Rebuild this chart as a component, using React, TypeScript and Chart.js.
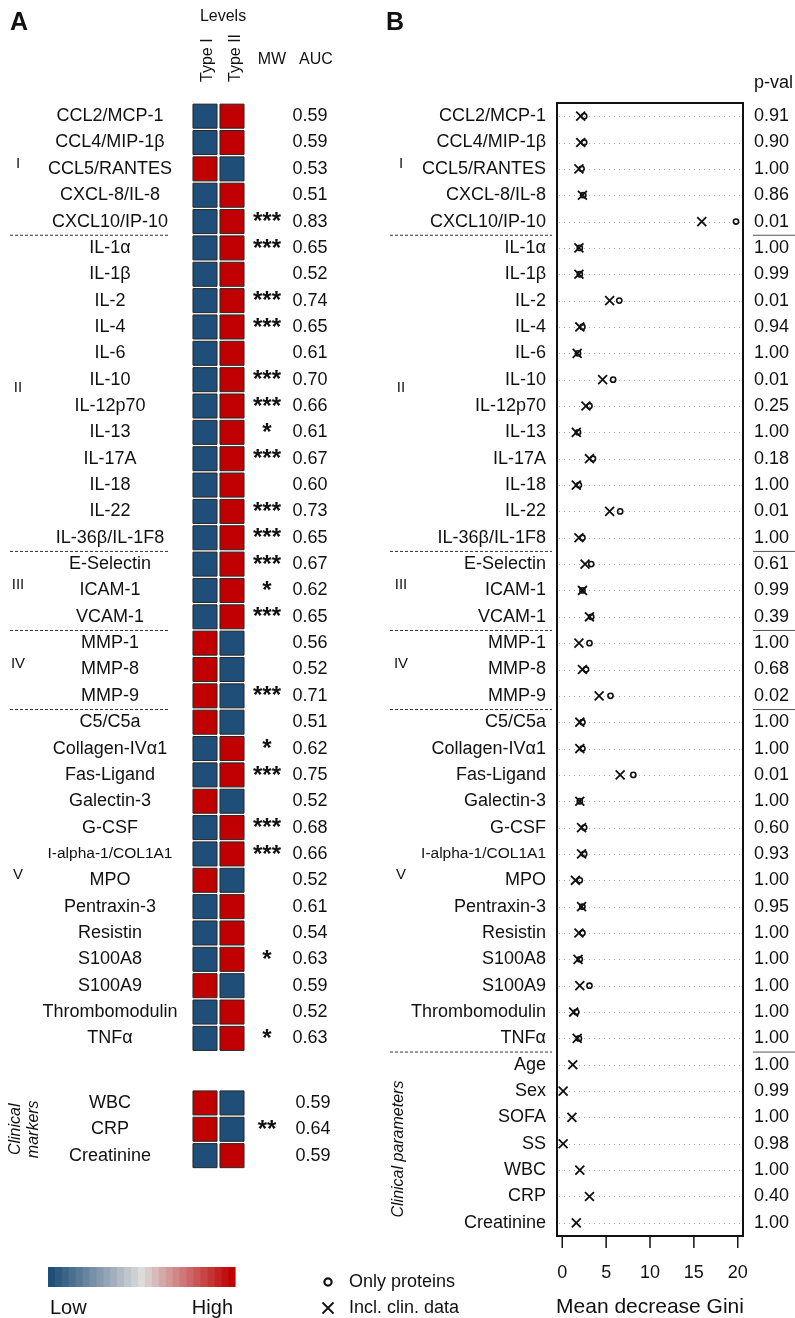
import React, { useEffect, useRef } from 'react';
import { Chart, registerables } from 'chart.js';
Chart.register(...registerables);

const W = 795;
const H = 1318;
const FF = '"Liberation Sans", Arial, Helvetica, sans-serif';

// ---------- DATA ----------
const proteins = [
  'CCL2/MCP-1', 'CCL4/MIP-1β', 'CCL5/RANTES', 'CXCL-8/IL-8', 'CXCL10/IP-10',
  'IL-1α', 'IL-1β', 'IL-2', 'IL-4', 'IL-6', 'IL-10', 'IL-12p70', 'IL-13', 'IL-17A', 'IL-18', 'IL-22', 'IL-36β/IL-1F8',
  'E-Selectin', 'ICAM-1', 'VCAM-1',
  'MMP-1', 'MMP-8', 'MMP-9',
  'C5/C5a', 'Collagen-IVα1', 'Fas-Ligand', 'Galectin-3', 'G-CSF', 'I-alpha-1/COL1A1', 'MPO', 'Pentraxin-3',
  'Resistin', 'S100A8', 'S100A9', 'Thrombomodulin', 'TNFα',
];
const groupNames = ['I', 'II', 'III', 'IV', 'V'];
const groupSizes = [5, 12, 3, 3, 13];

// 1 = Type I high (red) / Type II low (blue); 0 = Type I low / Type II high
const typeIHigh = [
  0, 0, 1, 0, 0,
  0, 0, 0, 0, 0, 0, 0, 0, 0, 0, 0, 0,
  0, 0, 0,
  1, 1, 1,
  1, 0, 0, 1, 0, 0, 1, 0, 0, 0, 1, 0, 0,
];
const mwStars = [
  '', '', '', '', '***',
  '***', '', '***', '***', '', '***', '***', '*', '***', '', '***', '***',
  '***', '*', '***',
  '', '', '***',
  '', '*', '***', '', '***', '***', '', '', '', '*', '', '', '*',
];
const aucValues = [
  0.59, 0.59, 0.53, 0.51, 0.83,
  0.65, 0.52, 0.74, 0.65, 0.61, 0.70, 0.66, 0.61, 0.67, 0.60, 0.73, 0.65,
  0.67, 0.62, 0.65,
  0.56, 0.52, 0.71,
  0.51, 0.62, 0.75, 0.52, 0.68, 0.66, 0.52, 0.61, 0.54, 0.63, 0.59, 0.52, 0.63,
];
const clinicalMarkers = ['WBC', 'CRP', 'Creatinine'];
const clinicalTypeIHigh = [1, 1, 0];
const clinicalStars = ['', '**', ''];
const clinicalAuc = [0.59, 0.64, 0.59];

const clinicalParams = ['Age', 'Sex', 'SOFA', 'SS', 'WBC', 'CRP', 'Creatinine'];
const giniOnlyProteins = [
  2.5, 2.5, 2.2, 2.4, 19.8,
  2.0, 2.0, 6.5, 2.3, 1.8, 5.8, 3.1, 1.8, 3.5, 1.9, 6.6, 2.3,
  3.3, 2.3, 3.3,
  3.1, 2.7, 5.5,
  2.3, 2.3, 8.1, 2.0, 2.5, 2.5, 2.0, 2.3, 2.3, 2.0, 3.1, 1.6, 1.9,
];
const giniInclClin = [
  2.1, 2.1, 1.9, 2.3, 15.9,
  1.9, 1.9, 5.4, 2.0, 1.7, 4.6, 2.7, 1.6, 3.1, 1.6, 5.4, 1.9,
  2.6, 2.3, 3.1,
  1.9, 2.3, 4.2,
  2.0, 2.0, 6.6, 2.0, 2.2, 2.2, 1.5, 2.2, 1.9, 1.8, 2.0, 1.3, 1.7,
  1.2, 0.1, 1.1, 0.1, 2.0, 3.1, 1.6,
];
const pValues = [
  '0.91', '0.90', '1.00', '0.86', '0.01',
  '1.00', '0.99', '0.01', '0.94', '1.00', '0.01', '0.25', '1.00', '0.18', '1.00', '0.01', '1.00',
  '0.61', '0.99', '0.39',
  '1.00', '0.68', '0.02',
  '1.00', '1.00', '0.01', '1.00', '0.60', '0.93', '1.00', '0.95', '1.00', '1.00', '1.00', '1.00', '1.00',
  '1.00', '0.99', '1.00', '0.98', '1.00', '0.40', '1.00',
];
const xTicks = [0, 5, 10, 15, 20];

// ---------- STYLE ----------
const BLUE = '#1F4E79';
const RED = '#C00000';
const MID = '#DCDCDC';
const INK = '#111111';

const rowsB = [...proteins, ...clinicalParams];
const nRows = rowsB.length;
const CLIN_OFFSET = proteins.length + 1.45; // clinical markers block position in panel A

function groupStarts() {
  const s: number[] = [];
  let c = 0;
  for (const g of groupSizes) { s.push(c); c += g; }
  return s;
}

function hexToRgb(h: string) {
  const n = parseInt(h.slice(1), 16);
  return [(n >> 16) & 255, (n >> 8) & 255, n & 255];
}
function mix(a: string, b: string, t: number) {
  const A = hexToRgb(a), B = hexToRgb(b);
  const r = A.map((v, i) => Math.round(v + (B[i] - v) * t));
  return `rgb(${r[0]},${r[1]},${r[2]})`;
}

function txt(ctx: CanvasRenderingContext2D, s: string, x: number, y: number, font: string,
  align: CanvasTextAlign = 'center', baseline: CanvasTextBaseline = 'middle', color = INK) {
  ctx.save();
  ctx.font = font;
  ctx.textAlign = align;
  ctx.textBaseline = baseline;
  ctx.fillStyle = color;
  ctx.fillText(s, x, y);
  ctx.restore();
}
function rtxt(ctx: CanvasRenderingContext2D, s: string, x: number, y: number, font: string,
  align: CanvasTextAlign = 'center') {
  ctx.save();
  ctx.translate(x, y);
  ctx.rotate(-Math.PI / 2);
  ctx.font = font;
  ctx.textAlign = align;
  ctx.textBaseline = 'middle';
  ctx.fillStyle = INK;
  ctx.fillText(s, 0, 0);
  ctx.restore();
}
function dashed(ctx: CanvasRenderingContext2D, x1: number, x2: number, y: number) {
  ctx.save();
  ctx.strokeStyle = '#333';
  ctx.lineWidth = 1;
  ctx.setLineDash([3, 2]);
  ctx.beginPath();
  ctx.moveTo(x1, y + 0.5);
  ctx.lineTo(x2, y + 0.5);
  ctx.stroke();
  ctx.restore();
}
function solid(ctx: CanvasRenderingContext2D, x1: number, x2: number, y: number) {
  ctx.save();
  ctx.strokeStyle = '#555';
  ctx.lineWidth = 1;
  ctx.beginPath();
  ctx.moveTo(x1, y + 0.5);
  ctx.lineTo(x2, y + 0.5);
  ctx.stroke();
  ctx.restore();
}

const STAR_FONT = `bold 24px ${FF}`;
const STAR_DY = 1;

// ---------- PANEL A plugin ----------
const panelAPlugin = {
  id: 'panelA',
  afterDraw(chart: any) {
    const ctx: CanvasRenderingContext2D = chart.ctx;
    const ys = chart.scales.y;
    txt(ctx, 'A', 10, 30, `bold 25px ${FF}`, 'left', 'alphabetic');
    txt(ctx, 'Levels', 223, 17, `16px ${FF}`);
    rtxt(ctx, 'Type I', 208, 82, `16px ${FF}`, 'left');
    rtxt(ctx, 'Type II', 236, 82, `16px ${FF}`, 'left');
    txt(ctx, 'MW', 272, 60, `16px ${FF}`);
    txt(ctx, 'AUC', 316, 60, `16px ${FF}`);

    proteins.forEach((p, i) => {
      const y = ys.getPixelForValue(i);
      const f = p.length > 15 ? `15.5px ${FF}` : `18px ${FF}`;
      txt(ctx, p, 110, y, f);
      if (mwStars[i]) txt(ctx, mwStars[i], 267, y + STAR_DY, STAR_FONT);
      txt(ctx, aucValues[i].toFixed(2), 310, y, `18px ${FF}`);
    });
    const starts = groupStarts();
    groupNames.forEach((g, k) => {
      const c = starts[k] + (groupSizes[k] - 1) / 2 - 0.2;
      txt(ctx, g, 18, ys.getPixelForValue(c), `15px ${FF}`);
      if (k > 0) dashed(ctx, 10, 170, ys.getPixelForValue(starts[k] - 0.5));
    });
    clinicalMarkers.forEach((m, k) => {
      const y = ys.getPixelForValue(CLIN_OFFSET + k);
      txt(ctx, m, 110, y, `18px ${FF}`);
      if (clinicalStars[k]) txt(ctx, clinicalStars[k], 267, y + STAR_DY, STAR_FONT);
      txt(ctx, clinicalAuc[k].toFixed(2), 313, y, `18px ${FF}`);
    });
    const cy = ys.getPixelForValue(CLIN_OFFSET + 1);
    rtxt(ctx, 'Clinical', 16, cy, `italic 16px ${FF}`);
    rtxt(ctx, 'markers', 34, cy, `italic 16px ${FF}`);

    // colour key
    const x0 = 48, x1 = 235, y0 = 1267, hh = 20, n = 27;
    const bw = (x1 - x0) / n;
    for (let i = 0; i < n; i++) {
      const t = i / (n - 1);
      ctx.fillStyle = t < 0.5 ? mix(BLUE, MID, t * 2) : mix(MID, RED, (t - 0.5) * 2);
      ctx.fillRect(x0 + i * bw, y0, bw + 0.6, hh);
    }
    txt(ctx, 'Low', 50, 1308, `20px ${FF}`, 'left');
    txt(ctx, 'High', 233, 1308, `20px ${FF}`, 'right');
  },
};

// ---------- PANEL B plugins ----------
const gridBPlugin = {
  id: 'gridB',
  beforeDatasetsDraw(chart: any) {
    const ctx: CanvasRenderingContext2D = chart.ctx;
    const ys = chart.scales.y;
    const a = chart.chartArea;
    ctx.save();
    ctx.strokeStyle = '#a8a8a8';
    ctx.lineWidth = 1;
    ctx.setLineDash([1, 4]);
    for (let i = 0; i < nRows; i++) {
      const y = Math.round(ys.getPixelForValue(i)) + 0.5;
      ctx.beginPath();
      ctx.moveTo(a.left + 2, y);
      ctx.lineTo(a.right - 2, y);
      ctx.stroke();
    }
    ctx.restore();
  },
};

const panelBPlugin = {
  id: 'panelB',
  afterDraw(chart: any) {
    const ctx: CanvasRenderingContext2D = chart.ctx;
    const ys = chart.scales.y;
    const xs = chart.scales.x;
    const a = chart.chartArea;
    txt(ctx, 'B', 386, 30, `bold 25px ${FF}`, 'left', 'alphabetic');
    txt(ctx, 'p-val', 754, 83, `18px ${FF}`, 'left');

    // box
    ctx.save();
    ctx.strokeStyle = INK;
    ctx.lineWidth = 2;
    ctx.strokeRect(a.left, a.top, a.right - a.left, a.bottom - a.top);
    ctx.restore();

    rowsB.forEach((r, i) => {
      const y = ys.getPixelForValue(i);
      const f = r.length > 15 ? `15.5px ${FF}` : `18px ${FF}`;
      txt(ctx, r, a.left - 11, y, f, 'right');
      txt(ctx, pValues[i], 754, y, `18px ${FF}`, 'left');
    });
    const starts = groupStarts();
    groupNames.forEach((g, k) => {
      const c = starts[k] + (groupSizes[k] - 1) / 2 - 0.2;
      txt(ctx, g, 401, ys.getPixelForValue(c), `15px ${FF}`);
      const yb = ys.getPixelForValue(starts[k] + groupSizes[k] - 0.5);
      dashed(ctx, 390, 552, yb);
      solid(ctx, 753, 795, yb);
    });
    const cStart = proteins.length;
    rtxt(ctx, 'Clinical parameters', 399,
      ys.getPixelForValue(cStart + (clinicalParams.length - 1) / 2 + 0.2), `italic 16px ${FF}`);

    // x axis ticks
    ctx.save();
    ctx.strokeStyle = INK;
    ctx.lineWidth = 1.5;
    xTicks.forEach((t) => {
      const x = xs.getPixelForValue(t);
      ctx.beginPath();
      ctx.moveTo(x, a.bottom);
      ctx.lineTo(x, a.bottom + 12);
      ctx.stroke();
      txt(ctx, String(t), x, 1273, `18px ${FF}`);
    });
    ctx.restore();
    txt(ctx, 'Mean decrease Gini', (a.left + a.right) / 2, 1307, `21px ${FF}`);

    // legend
    ctx.save();
    ctx.strokeStyle = INK;
    ctx.lineWidth = 2.2;
    ctx.beginPath();
    ctx.arc(328, 1282, 3.6, 0, Math.PI * 2);
    ctx.stroke();
    ctx.lineWidth = 1.8;
    ctx.beginPath();
    ctx.moveTo(322.5, 1302.5); ctx.lineTo(333.5, 1313.5);
    ctx.moveTo(333.5, 1302.5); ctx.lineTo(322.5, 1313.5);
    ctx.stroke();
    ctx.restore();
    txt(ctx, 'Only proteins', 349, 1282, `18px ${FF}`, 'left');
    txt(ctx, 'Incl. clin. data', 349, 1308, `18px ${FF}`, 'left');
  },
};

const yScale = {
  type: 'linear' as const,
  min: -0.5,
  max: nRows - 0.5,
  reverse: true,
  display: false,
};

export default function App() {
  const refA = useRef<HTMLCanvasElement>(null);
  const refB = useRef<HTMLCanvasElement>(null);

  useEffect(() => {
    const cellRows = [
      ...proteins.map((_, i) => ({ y: i, hi: typeIHigh[i] })),
      ...clinicalMarkers.map((_, k) => ({ y: CLIN_OFFSET + k, hi: clinicalTypeIHigh[k] })),
    ];
    const cellDs = (col: number) => ({
      label: col === 1 ? 'Type I' : 'Type II',
      data: cellRows.map((r) => ({ x: col, y: r.y })),
      pointStyle: 'rect' as const,
      pointRadius: 17,
      pointHoverRadius: 17,
      pointBorderWidth: 1,
      pointBorderColor: '#262626',
      pointBackgroundColor: cellRows.map((r) => ((col === 1) === (r.hi === 1) ? RED : BLUE)),
      showLine: false,
    });
    const chartA = new Chart(refA.current!, {
      type: 'scatter',
      data: { datasets: [cellDs(1), cellDs(2)] },
      options: {
        animation: false,
        responsive: false,
        events: [],
        layout: { padding: { left: 178, right: W - 259, top: 103, bottom: H - 1236 } },
        scales: {
          x: { type: 'linear', min: 0, max: 3, display: false },
          y: yScale,
        },
        plugins: { legend: { display: false }, tooltip: { enabled: false } },
      },
      plugins: [panelAPlugin],
    } as any);

    const chartB = new Chart(refB.current!, {
      type: 'scatter',
      data: {
        datasets: [
          {
            label: 'Only proteins',
            data: giniOnlyProteins.map((v, i) => ({ x: v, y: i })),
            pointStyle: 'circle',
            pointRadius: 2.6,
            pointHoverRadius: 2.6,
            pointBorderWidth: 1.6,
            pointBorderColor: INK,
            pointBackgroundColor: 'rgba(0,0,0,0)',
            clip: false,
          },
          {
            label: 'Incl. clin. data',
            data: giniInclClin.map((v, i) => ({ x: v, y: i })),
            pointStyle: 'crossRot',
            pointRadius: 6.3,
            pointHoverRadius: 6.3,
            pointBorderWidth: 1.8,
            pointBorderColor: INK,
            clip: false,
          },
        ],
      },
      options: {
        animation: false,
        responsive: false,
        events: [],
        layout: { padding: { left: 557, right: W - 743, top: 103, bottom: H - 1236 } },
        scales: {
          x: { type: 'linear', min: -0.6, max: 20.6, display: false },
          y: yScale,
        },
        plugins: { legend: { display: false }, tooltip: { enabled: false } },
      },
      plugins: [gridBPlugin, panelBPlugin],
    } as any);

    return () => {
      chartA.destroy();
      chartB.destroy();
    };
  }, []);

  const cs: React.CSSProperties = { position: 'absolute', left: 0, top: 0, width: W, height: H };
  return (
    <div style={{ position: 'absolute', left: 0, top: 0, width: W, height: H, background: '#fff' }}>
      <canvas ref={refB} width={W} height={H} style={cs} />
      <canvas ref={refA} width={W} height={H} style={cs} />
    </div>
  );
}
